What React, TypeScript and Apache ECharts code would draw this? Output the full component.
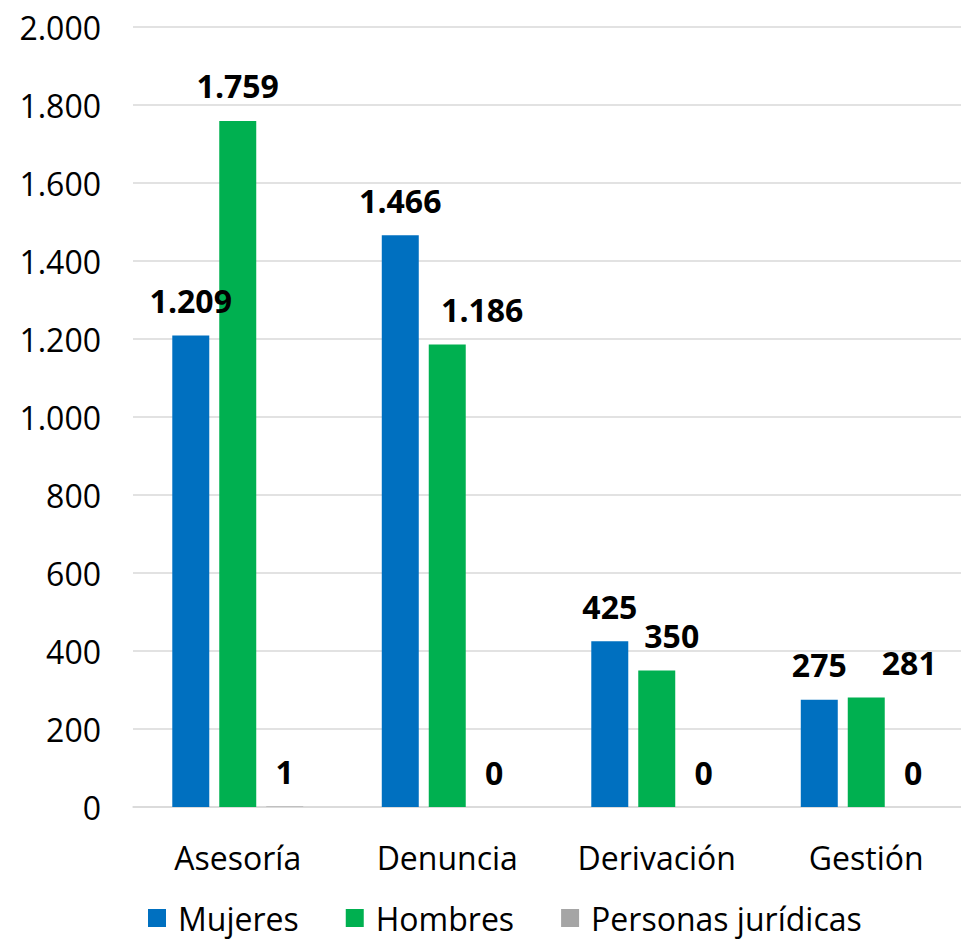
import React, { useEffect, useRef } from "react";
import * as echarts from "echarts";

const categories = ["Asesoría", "Denuncia", "Derivación", "Gestión"];
const seriesNames = ["Mujeres", "Hombres", "Personas jurídicas"];
const mujeres = [1209, 1466, 425, 275];
const hombres = [1759, 1186, 350, 281];
const juridicas = [1, 0, 0, 0];

// label horizontal shifts (styling, not data)
const hombresLabelShift = [0, 35, 15, 43];

const COLORS = ["#0070C0", "#00B050", "#A5A5A5"];
const FONT = "Open Sans";

const fmt = (v: number) => String(Math.round(v)).replace(/\B(?=(\d{3})+(?!\d))/g, ".");

export default function App() {
  const ref = useRef<HTMLDivElement>(null);
  useEffect(() => {
    document.body.style.margin = "0";
    if (!ref.current) return;
    const chart = echarts.init(ref.current, null, { renderer: "svg" });
    const label = {
      show: true,
      position: "top",
      distance: 19,
      fontFamily: FONT,
      fontSize: 32,
      fontWeight: "bold",
      color: "#000",
      formatter: (p: any) => fmt(p.value),
    };
    const mk = (name: string, data: number[], color: string, shifts?: number[]) => ({
      name,
      type: "bar",
      barGap: "27%",
      barCategoryGap: "37.5%",
      itemStyle: { color },
      label,
      data: data.map((v, i) =>
        shifts ? { value: v, label: { offset: [shifts[i], 0] } } : v
      ),
    });
    chart.setOption({
      animation: false,
      textStyle: { fontFamily: FONT },
      grid: { left: 133, top: 27, width: 838, height: 780, containLabel: false },
      legend: {
        top: 902,
        left: 148,
        padding: 0,
        itemWidth: 18,
        itemHeight: 18,
        itemGap: 47,
        icon: "rect",
        textStyle: { fontFamily: FONT, fontSize: 32, color: "#000", padding: [0, 0, 0, 7] },
        data: seriesNames,
      },
      xAxis: {
        type: "category",
        data: categories,
        axisLine: { lineStyle: { color: "#D9D9D9", width: 1.5 } },
        axisTick: { show: false },
        axisLabel: { fontFamily: FONT, fontSize: 32, color: "#000", margin: 34, interval: 0 },
      },
      yAxis: {
        type: "value",
        min: 0,
        max: 2000,
        interval: 200,
        axisLine: { show: false },
        axisTick: { show: false },
        splitLine: { lineStyle: { color: "#D9D9D9", width: 1.5 } },
        axisLabel: {
          fontFamily: FONT,
          fontSize: 32,
          color: "#000",
          margin: 32,
          formatter: (v: number) => fmt(v),
        },
      },
      series: [
        mk(seriesNames[0], mujeres, COLORS[0]),
        mk(seriesNames[1], hombres, COLORS[1], hombresLabelShift),
        mk(seriesNames[2], juridicas, COLORS[2]),
      ],
    });
    return () => chart.dispose();
  }, []);
  return (
    <div style={{ width: 961, height: 940, overflow: "hidden" }}>
      <div ref={ref} style={{ width: 983, height: 940 }} />
    </div>
  );
}
